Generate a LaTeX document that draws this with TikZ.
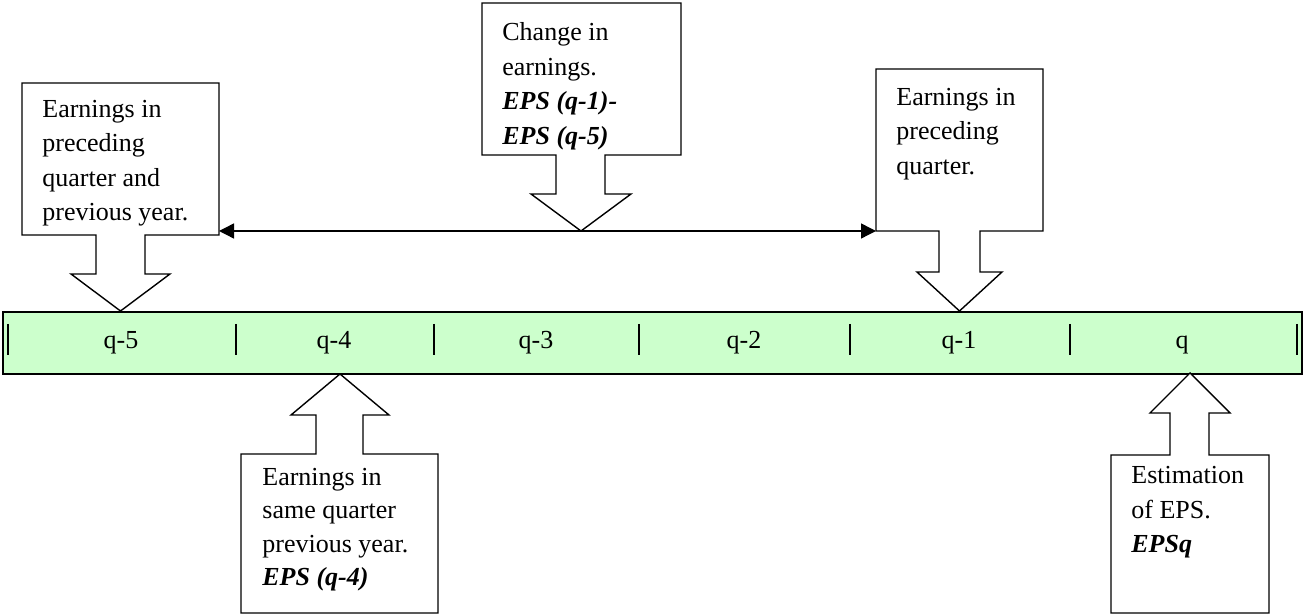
\documentclass[tikz,border=0pt]{standalone}
\usepackage{fontspec}
\setmainfont{Liberation Serif}
\usetikzlibrary{arrows.meta}
\definecolor{bandgreen}{HTML}{CCFFCC}
\begin{document}
\begin{tikzpicture}[x=0.5pt,y=-0.5pt,
  outline/.style={draw=black, line width=0.7pt, fill=white, line join=miter},
  txt/.style={anchor=base west, align=left, inner sep=0pt, font=\fontsize{13}{17.25}\selectfont},
  qlab/.style={anchor=base, inner sep=0pt, font=\fontsize{13}{15}\selectfont},
  band/.style={draw=black, line width=1pt, fill=bandgreen},
  tick/.style={draw=black, line width=0.75pt},
  dblarrow/.style={draw=black, line width=0.7pt, {Triangle[length=7.5pt,width=7.5pt]}-{Triangle[length=7.5pt,width=7.5pt]}}]
\useasboundingbox (0,0) rectangle (1303,614);
% timeline band
\draw[band] (3,312) rectangle (1302,374);
\foreach \x in {8,236,434,639,850,1070,1297} \draw[tick] (\x,324) -- (\x,355);
\node[qlab] (q5) at (121,349) {q-5};
\node[qlab] (q4) at (334,349) {q-4};
\node[qlab] (q3) at (536,349) {q-3};
\node[qlab] (q2) at (744,349) {q-2};
\node[qlab] (q1) at (959,349) {q-1};
\node[qlab] (q0) at (1182,349) {q};
% callout A (text anchored at the baseline of its last line)
\draw[outline] (22,235) -- (22,83) -- (219,83) -- (219,235) -- (145,235) -- (145,274) -- (170,274) -- (120.5,311) -- (71,274) -- (96,274) -- (96,235) -- cycle;
\node[txt] (ta) at (42,221) {Earnings in\\preceding\\quarter and\\previous year.};
% callout B
\draw[outline] (482,155) -- (482,3) -- (681,3) -- (681,155) -- (605,155) -- (605,194) -- (631,194) -- (581,231) -- (531,194) -- (556,194) -- (556,155) -- cycle;
\node[txt] (tb) at (502,144.5) {Change in\\earnings.\\\textbf{\textit{EPS (q-1)-}}\\\textbf{\textit{EPS (q-5)}}};
% callout C
\draw[outline] (876,231) -- (876,69) -- (1043,69) -- (1043,231) -- (980,231) -- (980,272) -- (1002,272) -- (959.5,311) -- (917,272) -- (939,272) -- (939,231) -- cycle;
\node[txt] (tc) at (896,174.5) {Earnings in\\preceding\\quarter.};
% callout D
\draw[outline] (241,454) -- (241,613) -- (438,613) -- (438,454) -- (363,454) -- (363,415) -- (389,415) -- (340,374) -- (291,415) -- (316,415) -- (316,454) -- cycle;
\node[txt, font=\fontsize{13}{16.75}\selectfont] (td) at (262,586) {Earnings in\\same quarter\\previous year.\\\textbf{\textit{EPS (q-4)}}};
% callout E
\draw[outline] (1111,455) -- (1111,613) -- (1269,613) -- (1269,455) -- (1209,455) -- (1209,413) -- (1230,413) -- (1190,373) -- (1150,413) -- (1170,413) -- (1170,455) -- cycle;
\node[txt] (te) at (1131,553) {Estimation\\of EPS.\\\textbf{\textit{EPSq}}};
% double arrow between A and C
\coordinate (aSE) at (219,231);
\coordinate (cSW) at (876,231);
\draw[dblarrow] (aSE) -- (cSW);
\end{tikzpicture}
\end{document}
